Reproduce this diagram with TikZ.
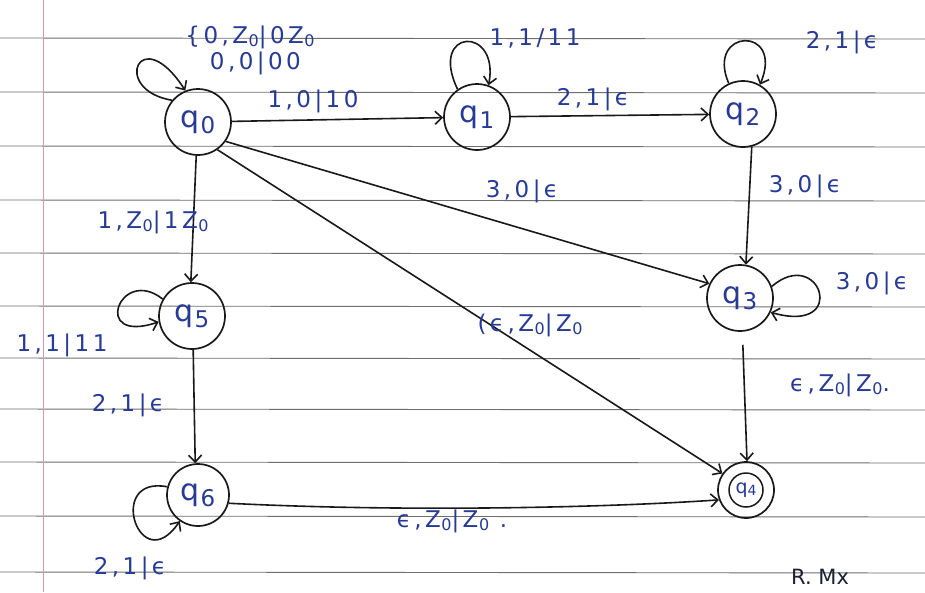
\documentclass[tikz,border=0pt]{standalone}
\usepackage{fontspec}
\setmainfont{DejaVu Sans}
\usetikzlibrary{arrows.meta}
\definecolor{ink}{RGB}{38,58,150}
\definecolor{pen}{RGB}{25,25,25}
\definecolor{ruleline}{RGB}{110,110,110}
\definecolor{marginline}{RGB}{225,150,175}
\newcommand{\qs}[1]{q\kern1pt\raisebox{-6pt}{\fontsize{23}{23}\selectfont #1}}
\newcommand{\zz}{Z\kern0.5pt\raisebox{-3pt}{\fontsize{16}{16}\selectfont 0}}
\newcommand{\ep}{ϵ}
\begin{document}
\begin{tikzpicture}[x=1pt,y=-1pt,
  state/.style={circle,draw=pen,line width=1.7pt,minimum size=66pt,inner sep=0pt,text=ink,font=\fontsize{30}{30}\selectfont},
  lbl/.style={text=ink,inner sep=1pt,font=\fontsize{23}{26}\addfontfeature{LetterSpace=15}\selectfont},
  edge/.style={draw=pen,line width=1.6pt,-{Straight Barb[length=7pt,width=13pt,line width=1.6pt]}},
  paperline/.style={draw=ruleline,line width=0.9pt}
]
\useasboundingbox (0,0) rectangle (925,592);
\fill[white] (0,0) rectangle (925,592);
% ruled paper
\foreach \yy in {38,92,146,200,253,306,358,409,462,516,572}
  \draw[paperline] (0,\yy) -- (925,\yy+1);
\draw[marginline,line width=0.9pt] (43,0) -- (43,592);

% states
\node[state] (q0) at (198,122) {\qs{0}};
\node[state] (q1) at (477,117) {\qs{1}};
\node[state] (q2) at (743,114) {\qs{2}};
\node[state] (q3) at (740,298) {\qs{3}};
\node[state] (q5) at (192,316) {\qs{5}};
\node[state,minimum size=62pt] (q6) at (198,495) {\qs{6}};
\node[state,minimum size=56pt] (q4) at (746,490) {};
\node[circle,draw=pen,line width=1.5pt,minimum size=34pt,inner sep=0pt,text=ink,font=\fontsize{19}{19}\selectfont] (q4in) at (746,490) {q\raisebox{-2pt}{\fontsize{14}{14}\selectfont 4}};

% transitions
\draw[edge] (q0) -- (q1);
\draw[edge] (q1) -- (q2);
\draw[edge] (q2.-75) -- (q3.80);
\draw[edge] (q0.-35) -- (q3.155);
\draw[edge] (q0.-55) -- (q4.145);
\draw[edge] (q0.-93) -- (q5.92);
\draw[edge] (q5.-88) -- (q6.95);
\draw[edge] (q6.-15) .. controls (400,512) and (600,508) .. (q4.200);
\draw[edge,shorten <=13pt] (q3.-86) -- (q4.88);

% self loops
\draw[edge] (q0.140) .. controls (110,90) and (140,20) .. (q0.112);
\draw[edge] (q1.125) .. controls (428,28) and (500,25) .. (q1.70);
\draw[edge] (q2.115) .. controls (705,28) and (785,25) .. (q2.60);
\draw[edge] (q3.20) .. controls (820,245) and (850,335) .. (q3.-25);
\draw[edge] (q5.150) .. controls (120,265) and (90,345) .. (q5.190);
\draw[edge] (q6.165) .. controls (105,475) and (140,580) .. (q6.235);

% labels
\node[lbl] (l01) at (313,101) {1,0|10};
\node[lbl] (l12) at (593,99) {2,1|\ep};
\node[lbl] (l23) at (805,186) {3,0|\ep};
\node[lbl] (l03) at (522,191) {3,0|\ep};
\node[lbl] (l04) at (530,325) {(\ep,\zz|\zz};
\node[lbl] (l05) at (153,222) {1,\zz|1\zz};
\node[lbl] (l56) at (128,405) {2,1|\ep};
\node[lbl] (l64) at (452,521) {\ep,\zz|\zz\ .};
\node[lbl] (l34) at (840,385) {\ep,\zz|\zz.};
\node[lbl,align=center] (lp0) at (250,50) {\{0,\zz|0\zz\\\ 0,0|00};
\node[lbl] (lp1) at (535,38) {1,1/11};
\node[lbl] (lp2) at (842,42) {2,1|\ep};
\node[lbl] (lp3) at (872,283) {3,0|\ep};
\node[lbl] (lp5) at (62,345) {1,1|11};
\node[lbl] (lp6) at (130,568) {2,1|\ep};
\node[lbl,anchor=north west,text=pen!80!ink,font=\fontsize{21}{21}\selectfont] (rm) at (790,568) {R. Mx};
\end{tikzpicture}
\end{document}
